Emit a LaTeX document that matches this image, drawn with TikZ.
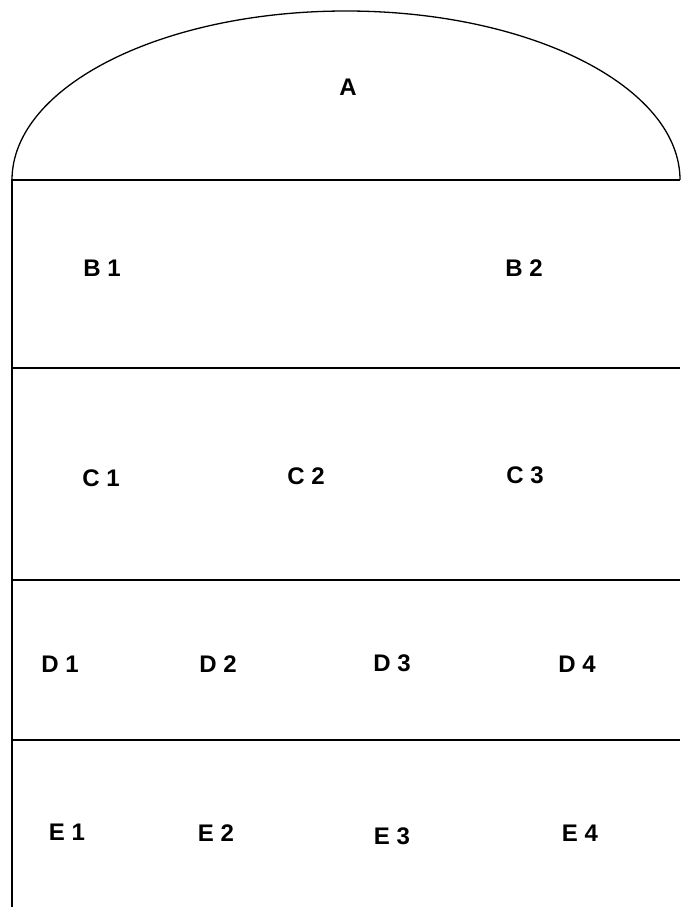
\documentclass[tikz,border=0pt]{standalone}
\usepackage{fontspec}
\setmainfont{Liberation Sans}
\begin{document}
\begin{tikzpicture}[x=1pt,y=-1pt,
  lbl/.style={font=\fontsize{24}{28}\selectfont\bfseries, inner sep=0pt, anchor=center},
  wall/.style={line width=1.3pt, black}]
\useasboundingbox (0,0) rectangle (680,907);
\coordinate (tl) at (12,180);
\coordinate (tr) at (680,180);
\coordinate (bl) at (12,907);
% dome
\draw[wall] (tl) arc[start angle=180, end angle=360, x radius=334, y radius=169];
% outer lines
\draw[wall] (tr) -- (tl) -- (bl);
\coordinate (c1l) at (12,368); \coordinate (c1r) at (680,368);
\coordinate (d1l) at (12,580); \coordinate (d1r) at (680,580);
\coordinate (e1l) at (12,740); \coordinate (e1r) at (680,740);
\draw[wall] (c1l) -- (c1r);
\draw[wall] (d1l) -- (d1r);
\draw[wall] (e1l) -- (e1r);
% labels
\node[lbl] (A) at (348,87) {A};
\node[lbl] (B1) at (102,268) {B 1};
\node[lbl] (B2) at (524,268) {B 2};
\node[lbl] (C1) at (101,478) {C 1};
\node[lbl] (C2) at (306,476) {C 2};
\node[lbl] (C3) at (525,475) {C 3};
\node[lbl] (D1) at (60,664) {D 1};
\node[lbl] (D2) at (218,664) {D 2};
\node[lbl] (D3) at (392,663) {D 3};
\node[lbl] (D4) at (577,664) {D 4};
\node[lbl] (E1) at (67,832) {E 1};
\node[lbl] (E2) at (216,833) {E 2};
\node[lbl] (E3) at (392,836) {E 3};
\node[lbl] (E4) at (580,833) {E 4};
\end{tikzpicture}
\end{document}
